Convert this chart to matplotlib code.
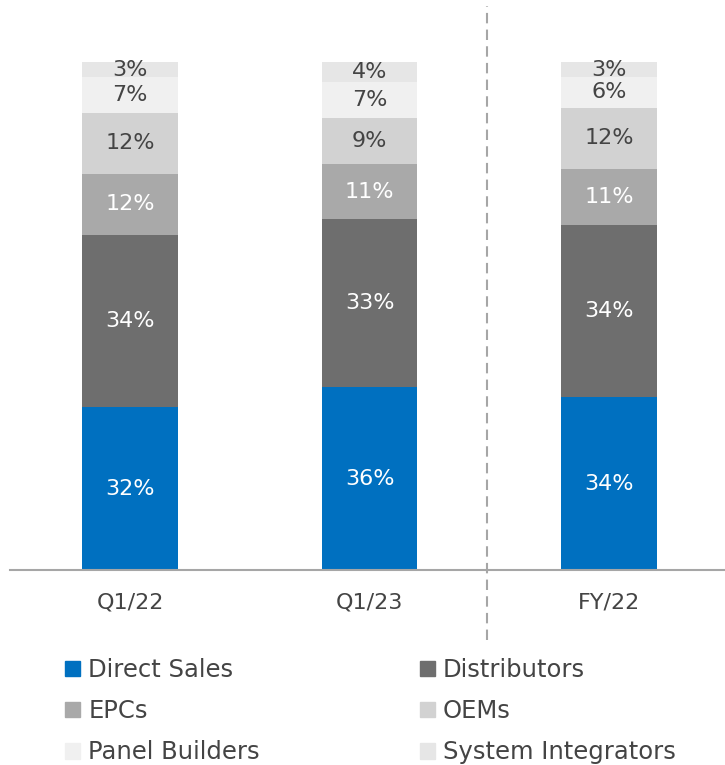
import matplotlib.pyplot as plt
import matplotlib.patches as mpatches
import numpy as np

plt.rcParams['font.family'] = ['DejaVu Sans']

# data
periods = ['Q1/22', 'Q1/23', 'FY/22']
segments = ['Direct Sales', 'Distributors', 'EPCs', 'OEMs', 'Panel Builders', 'System Integrators']
direct_sales = [32, 36, 34]
distributors = [34, 33, 34]
epcs = [12, 11, 11]
oems = [12, 9, 12]
panel_builders = [7, 7, 6]
system_integrators = [3, 4, 3]

values = [direct_sales, distributors, epcs, oems, panel_builders, system_integrators]
colors = ['#0070C0', '#6E6E6E', '#A9A9A9', '#D2D2D2', '#F0F0F0', '#E6E6E6']
text_colors = ['white', 'white', 'white', '#444444', '#444444', '#444444']

fig = plt.figure(figsize=(7.25, 7.65), dpi=100)
ax = fig.add_axes([10 / 725, 195 / 765, 715 / 725, 570 / 765])

x = np.arange(len(periods))
bottom = np.zeros(len(periods))
for vals, col, tcol in zip(values, colors, text_colors):
    bars = ax.bar(x, vals, width=0.4, bottom=bottom, color=col, edgecolor='none')
    for b, v, bt in zip(bars, vals, bottom):
        ax.text(b.get_x() + b.get_width() / 2, bt + v / 2, f'{v}%',
                ha='center', va='center', color=tcol, fontsize=16)
    bottom += np.array(vals)

ax.set_xlim(-0.501, 2.484)
ax.set_ylim(0, 112.2)
for s in ['top', 'right', 'left']:
    ax.spines[s].set_visible(False)
ax.spines['bottom'].set_color('#A6A6A6')
ax.spines['bottom'].set_linewidth(1.5)
ax.set_yticks([])
ax.set_xticks(x)
ax.set_xticklabels(periods, fontsize=16, color='#444444')
ax.tick_params(axis='x', length=0, pad=16)

# separator between quarters and full year
ax.axvline(1.49, ymin=-0.123, ymax=0.99, color='#A6A6A6', linestyle=(0, (5, 3)),
           linewidth=1.5, clip_on=False)

# legend, filled column by column
order = [0, 2, 4, 1, 3, 5]
handles = [mpatches.Patch(color=colors[i], label=segments[i]) for i in order]
fig.legend(handles=handles, ncol=2, loc='upper left', bbox_to_anchor=(53 / 725, 1 - 646 / 765),
           frameon=False, fontsize=17.5, labelcolor='#444444', borderpad=0,
           handlelength=0.62, handleheight=0.62, handletextpad=0.33,
           columnspacing=6.58, labelspacing=0.7)

fig.savefig('out.png', dpi=100)
